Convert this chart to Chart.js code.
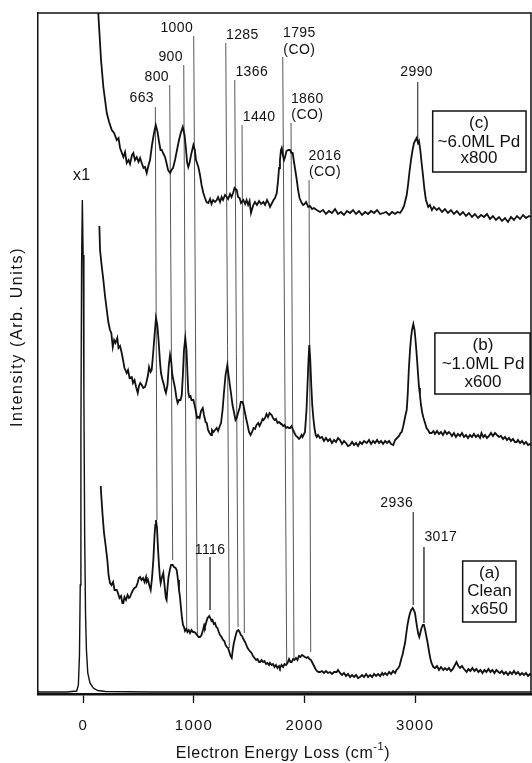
<!DOCTYPE html>
<html>
<head>
<meta charset="utf-8">
<script src="https://cdn.jsdelivr.net/npm/chart.js@4"></script>
<style>
  html, body { margin: 0; padding: 0; background: #fff; }
  #wrap { width: 532px; height: 763px; position: relative; }
</style>
</head>
<body>
<div id="wrap"><canvas id="eels"></canvas></div>
<script>
// wavenumber (cm-1), intensity (arb., offset stacked)
const elastic = [[-410,3],[-150,3],[-60,4],[-45,10],[-35,40],[-28,110],[-22,260],[-16,430],[-9,495],[-2,440],[5,300],[12,160],[20,80],[28,45],[40,22],[60,12],[90,7],[130,4.5],[200,3.5],[600,3],[4048,3]];

const traceC = [[128,720],[136,680],[160,635],[181,608],[212,582],[233,573],[257,565],[278,562],[302,555],[318,557],[332,547],[362,538],[377,543],[392,532],[409,535],[422,531],[440,540],[452,542],[467,535],[483,538],[499,533],[513,537],[528,532],[544,527],[558,528],[573,522],[590,530],[603,535],[621,550],[639,562],[655,570],[671,563],[685,553],[698,545],[709,545],[721,542],[739,538],[752,532],[766,525],[784,522],[797,525],[811,527],[829,535],[847,545],[865,555],[881,562],[899,568],[915,560],[929,545],[938,533],[949,528],[960,532],[974,540],[995,550],[1008,545],[1019,535],[1040,528],[1055,520],[1069,510],[1085,502],[1100,497],[1114,493],[1130,492],[1146,496],[1159,491],[1173,495],[1191,493],[1206,495],[1218,498],[1236,493],[1250,498],[1263,495],[1281,500],[1297,498],[1309,496],[1327,501],[1340,498],[1354,502],[1367,507],[1387,505],[1399,498],[1413,497],[1426,492],[1447,495],[1463,491],[1476,495],[1490,490],[1503,494],[1516,482],[1537,490],[1552,493],[1570,490],[1589,494],[1607,491],[1628,493],[1643,490],[1661,495],[1675,492],[1688,488],[1706,492],[1720,495],[1733,497],[1749,502],[1761,515],[1770,527],[1778,535],[1787,545],[1794,547],[1804,540],[1815,535],[1824,538],[1837,544],[1854,545],[1869,545],[1882,542],[1893,542],[1905,533],[1919,523],[1930,515],[1942,505],[1955,497],[1975,492],[1987,490],[2000,491],[2014,493],[2034,488],[2050,489],[2068,486],[2086,487],[2110,485],[2140,483],[2167,485],[2194,481],[2221,484],[2248,482],[2276,486],[2303,481],[2330,483],[2357,480],[2384,484],[2412,482],[2439,485],[2466,481],[2493,484],[2520,480],[2548,483],[2575,481],[2602,484],[2629,482],[2656,485],[2684,481],[2713,482],[2738,483],[2765,480],[2792,483],[2819,481],[2841,483],[2864,482],[2882,485],[2900,489],[2913,495],[2924,500],[2936,510],[2949,523],[2963,535],[2977,545],[2990,552],[3004,555],[3014,557],[3026,552],[3035,554],[3047,545],[3058,533],[3071,520],[3085,505],[3098,495],[3119,488],[3134,490],[3152,485],[3170,488],[3195,485],[3216,487],[3243,483],[3270,486],[3297,482],[3324,485],[3351,481],[3378,484],[3406,480],[3433,483],[3460,479],[3487,482],[3514,478],[3541,481],[3569,477],[3596,480],[3623,478],[3650,481],[3677,476],[3704,479],[3731,475],[3759,478],[3786,474],[3813,477],[3840,473],[3867,478],[3894,475],[3921,479],[3949,476],[3976,480],[4003,477],[4030,479],[4050,478]];

const traceB = [[145,469],[151,445],[165,430],[181,415],[196,399],[212,385],[226,373],[241,365],[253,362],[266,348],[278,355],[291,352],[307,357],[318,347],[332,349],[347,342],[359,335],[372,327],[392,322],[404,325],[418,317],[438,318],[449,312],[463,315],[477,308],[492,302],[503,309],[515,312],[528,310],[542,307],[558,308],[571,313],[585,320],[594,328],[608,323],[618,325],[630,340],[644,360],[657,377],[669,370],[680,355],[692,335],[702,322],[716,315],[729,310],[738,305],[747,302],[761,310],[773,330],[784,340],[795,333],[805,320],[814,315],[829,307],[842,297],[853,292],[865,295],[879,295],[890,300],[900,320],[910,345],[922,357],[933,345],[942,320],[949,303],[958,298],[969,299],[978,295],[995,295],[1006,290],[1019,283],[1028,277],[1040,278],[1051,277],[1064,284],[1080,287],[1091,280],[1105,273],[1116,272],[1128,265],[1141,262],[1155,260],[1163,265],[1177,263],[1191,265],[1206,267],[1218,264],[1231,268],[1245,272],[1259,285],[1272,303],[1286,320],[1302,330],[1313,320],[1325,310],[1335,302],[1349,290],[1362,283],[1376,275],[1387,277],[1399,282],[1413,287],[1424,293],[1438,293],[1448,290],[1460,283],[1471,277],[1485,270],[1498,263],[1512,260],[1526,263],[1539,267],[1553,266],[1566,270],[1582,272],[1593,269],[1607,272],[1620,276],[1628,275],[1643,277],[1656,281],[1670,278],[1684,282],[1703,280],[1715,277],[1729,275],[1742,276],[1756,272],[1770,273],[1778,272],[1792,271],[1806,269],[1819,270],[1833,267],[1846,268],[1860,267],[1869,267],[1882,269],[1896,265],[1909,262],[1923,259],[1936,258],[1950,256],[1959,257],[1973,260],[1982,258],[1991,260],[2004,263],[2018,285],[2027,310],[2036,335],[2043,350],[2052,335],[2061,310],[2070,290],[2079,278],[2090,267],[2101,260],[2110,258],[2122,260],[2140,257],[2158,258],[2176,254],[2194,257],[2212,254],[2230,256],[2248,252],[2267,255],[2285,253],[2303,257],[2321,255],[2339,251],[2357,254],[2375,252],[2393,249],[2412,250],[2430,253],[2448,250],[2466,252],[2484,249],[2502,253],[2520,251],[2538,254],[2563,252],[2583,255],[2602,251],[2620,254],[2638,252],[2656,255],[2674,252],[2692,254],[2710,251],[2729,254],[2747,252],[2765,254],[2783,251],[2803,250],[2819,255],[2837,257],[2855,259],[2868,262],[2879,263],[2891,268],[2904,275],[2913,280],[2924,285],[2933,300],[2943,325],[2954,345],[2963,357],[2972,365],[2984,371],[2995,365],[3006,352],[3018,335],[3027,320],[3036,307],[3044,300],[3053,290],[3065,282],[3076,277],[3090,272],[3103,267],[3117,265],[3132,262],[3150,262],[3166,264],[3180,261],[3198,264],[3216,261],[3234,263],[3252,260],[3270,264],[3288,261],[3306,263],[3315,262],[3333,259],[3351,262],[3369,258],[3387,261],[3406,259],[3424,262],[3442,258],[3460,260],[3478,257],[3496,260],[3514,258],[3532,261],[3550,258],[3569,260],[3587,257],[3600,262],[3617,258],[3632,260],[3650,257],[3668,259],[3686,262],[3704,259],[3722,262],[3740,260],[3759,258],[3777,259],[3795,256],[3813,258],[3831,255],[3849,257],[3867,254],[3885,256],[3903,253],[3919,253],[3930,255],[3949,252],[3967,254],[3985,251],[4003,253],[4021,250],[4039,251],[4052,249]];

const traceA = [[157,209],[165,195],[174,180],[187,162],[201,150],[217,135],[228,120],[241,112],[255,110],[269,113],[282,105],[302,105],[313,102],[327,97],[341,99],[353,92],[362,92],[372,98],[386,95],[400,100],[413,97],[422,98],[436,102],[449,105],[463,107],[477,108],[490,112],[502,117],[513,118],[526,115],[540,117],[553,113],[567,118],[573,113],[585,115],[598,109],[609,105],[621,117],[633,135],[644,160],[651,170],[657,175],[666,167],[675,147],[684,130],[693,117],[699,112],[709,117],[723,122],[734,110],[746,97],[753,95],[761,107],[770,118],[782,125],[793,130],[808,130],[820,128],[834,127],[844,125],[856,115],[865,105],[874,98],[883,87],[892,77],[901,70],[910,68],[919,64],[931,66],[941,63],[953,65],[965,62],[978,65],[992,63],[1001,63],[1014,62],[1028,60],[1042,58],[1055,58],[1069,60],[1082,65],[1093,70],[1100,68],[1112,73],[1123,77],[1132,78],[1139,79],[1148,77],[1159,74],[1168,75],[1180,71],[1191,72],[1202,68],[1213,67],[1225,63],[1236,60],[1250,58],[1263,55],[1275,54],[1286,50],[1297,48],[1309,47],[1320,43],[1331,39],[1342,37],[1351,45],[1361,52],[1372,57],[1381,61],[1390,64],[1402,65],[1413,63],[1424,60],[1435,59],[1447,56],[1462,53],[1474,50],[1485,47],[1498,45],[1512,43],[1522,42],[1534,39],[1548,37],[1562,35],[1575,36],[1589,33],[1598,33],[1611,35],[1625,33],[1638,34],[1652,31],[1665,32],[1679,30],[1688,32],[1702,30],[1715,31],[1729,28],[1742,30],[1756,27],[1770,29],[1778,27],[1792,30],[1806,28],[1819,31],[1833,30],[1846,32],[1860,36],[1873,33],[1884,33],[1896,36],[1909,35],[1923,37],[1936,35],[1950,39],[1963,38],[1977,40],[1991,39],[2004,38],[2018,37],[2031,38],[2045,36],[2059,35],[2072,32],[2086,29],[2099,26],[2113,24],[2127,23],[2140,23],[2158,24],[2176,22],[2194,24],[2212,22],[2230,23],[2248,21],[2267,23],[2291,23],[2303,25],[2321,22],[2339,20],[2357,22],[2375,19],[2393,21],[2412,18],[2430,20],[2448,18],[2466,20],[2484,17],[2502,18],[2520,20],[2538,18],[2557,21],[2575,18],[2593,20],[2611,18],[2629,21],[2647,19],[2665,21],[2684,19],[2702,22],[2713,20],[2729,22],[2747,20],[2765,23],[2783,21],[2801,24],[2819,22],[2832,25],[2848,27],[2859,29],[2868,33],[2877,37],[2886,40],[2895,45],[2909,52],[2921,62],[2931,70],[2943,77],[2954,82],[2965,85],[2978,87],[2988,85],[2999,82],[3008,75],[3019,67],[3029,61],[3038,58],[3047,62],[3058,67],[3070,70],[3080,70],[3091,65],[3101,59],[3112,53],[3121,47],[3130,41],[3139,36],[3148,32],[3165,28],[3180,27],[3198,29],[3216,25],[3234,28],[3255,25],[3270,27],[3288,25],[3306,27],[3324,24],[3342,26],[3360,30],[3374,33],[3391,29],[3406,27],[3424,29],[3442,26],[3466,23],[3482,26],[3500,24],[3518,27],[3536,24],[3554,26],[3572,23],[3591,25],[3609,22],[3627,25],[3645,23],[3663,26],[3681,23],[3699,25],[3717,22],[3735,25],[3753,23],[3767,22],[3785,24],[3803,21],[3821,23],[3840,20],[3858,23],[3876,21],[3894,24],[3912,21],[3930,23],[3949,20],[3967,22],[3985,20],[4003,22],[4021,19],[4039,21],[4052,20]];

// peak marker lines: [x top, y top, x bottom, y bottom]
const markers = [[651,588,666,175],[781,610,808,135],[908,630,935,65],[998,659,1031,60],[1288,652,1320,47],[1369,615,1399,68],[1435,570,1456,62],[1803,638,1839,32],[1878,572,1905,36],[2041,515,2056,43],[1146,138,1146,85],[2984,183,2984,90],[3080,148,3080,72],[3023,613,3023,555]];

// peak labels: [text, x, y]
const peakLabels = [['663',528,597],['800',664,618],['900',790,638],['1000',845,667],['1285',1438,660],['1366',1523,623],['1440',1589,578],['1795',1953,662],['(CO)',1953,645],['1860',2025,596],['(CO)',2025,580],['2016',2185,539],['(CO)',2185,523],['2990',3014,623],['1116',1146,145],['2936',2834,192],['3017',3232,158]];

// sample boxes: [left, top, right, bottom, centre x, line ys, lines]
const boxes = [
  [3159, 584, 4003, 523, 3577, [572, 553, 537], ['(c)', '~6.0ML Pd', 'x800']],
  [3179, 362, 4040, 301, 3614, [350, 331, 313], ['(b)', '~1.0ML Pd', 'x600']],
  [3430, 134, 3912, 73, 3672, [122, 104, 86], ['(a)', 'Clean', 'x650']]
];

const xTicks = [0, 1000, 2000, 3000];
const FONT = '"Liberation Sans", Arial, Helvetica, sans-serif';
const INK = '#111';

const toXY = arr => arr.map(p => ({ x: p[0], y: p[1] }));

const datasets = [
  { data: toXY(traceC), borderColor: INK, borderWidth: 1.8 },
  { data: toXY(traceB), borderColor: INK, borderWidth: 1.8 },
  { data: toXY(traceA), borderColor: INK, borderWidth: 1.8 },
  { data: toXY(elastic), borderColor: INK, borderWidth: 1.4 }
];
markers.forEach(m => {
  datasets.push({
    data: [{ x: m[0], y: m[1] }, { x: m[2], y: m[3] }],
    borderColor: '#555', borderWidth: 1
  });
});

const deco = {
  id: 'deco',
  beforeDraw(chart) {
    // scanned-type spacing for the tick labels
    chart.ctx.letterSpacing = '1.2px';
  },
  afterDatasetsDraw(chart) {
    const { ctx, chartArea: a, scales: { x, y } } = chart;
    ctx.save();
    ctx.strokeStyle = INK;
    ctx.lineWidth = 1.5;
    ctx.beginPath();
    ctx.moveTo(a.left, a.top);
    ctx.lineTo(a.right, a.top);
    ctx.lineTo(a.right, a.bottom);
    ctx.stroke();

    ctx.fillStyle = INK;
    ctx.textAlign = 'center';
    ctx.textBaseline = 'middle';
    ctx.letterSpacing = '0.4px';
    ctx.font = '14px ' + FONT;
    peakLabels.forEach(l => ctx.fillText(l[0], x.getPixelForValue(l[1]), y.getPixelForValue(l[2])));

    ctx.font = '16px ' + FONT;
    ctx.fillText('x1', x.getPixelForValue(-14), y.getPixelForValue(519));

    ctx.letterSpacing = '0px';
    ctx.lineWidth = 1.5;
    ctx.font = '17px ' + FONT;
    boxes.forEach(b => {
      const l = x.getPixelForValue(b[0]), t = y.getPixelForValue(b[1]);
      const r = x.getPixelForValue(b[2]), btm = y.getPixelForValue(b[3]);
      ctx.fillStyle = '#fff';
      ctx.fillRect(l, t, r - l, btm - t);
      ctx.strokeRect(l, t, r - l, btm - t);
      ctx.fillStyle = INK;
      b[6].forEach((s, i) => ctx.fillText(s, x.getPixelForValue(b[4]), y.getPixelForValue(b[5][i])));
    });

    // axis titles
    ctx.letterSpacing = '0.6px';
    ctx.font = '16px ' + FONT;
    const main = 'Electron Energy Loss (cm';
    const wMain = ctx.measureText(main).width;
    ctx.font = '11px ' + FONT;
    const wSup = ctx.measureText('-1').width;
    ctx.font = '16px ' + FONT;
    const wEnd = ctx.measureText(')').width;
    let cx = 283 - (wMain + wSup + wEnd) / 2;
    const ty = 754;
    ctx.textAlign = 'left';
    ctx.fillText(main, cx, ty);
    cx += wMain;
    ctx.font = '11px ' + FONT;
    ctx.fillText('-1', cx, ty - 7);
    cx += wSup;
    ctx.font = '16px ' + FONT;
    ctx.fillText(')', cx, ty);

    ctx.translate(18, 337);
    ctx.rotate(-Math.PI / 2);
    ctx.textAlign = 'center';
    ctx.letterSpacing = '1.6px';
    ctx.font = '16px ' + FONT;
    ctx.fillText('Intensity (Arb. Units)', 0, 0);
    ctx.restore();
  }
};

new Chart(document.getElementById('eels'), {
  type: 'line',
  data: { datasets: datasets },
  options: {
    responsive: true,
    maintainAspectRatio: false,
    animation: false,
    layout: { padding: { top: 13, right: 1, left: 0, bottom: 0 } },
    elements: { point: { radius: 0 }, line: { tension: 0 } },
    plugins: { legend: { display: false }, tooltip: { enabled: false } },
    scales: {
      x: {
        type: 'linear',
        min: -410,
        max: 4048,
        afterFit: s => { s.height = 69; },
        afterBuildTicks: s => { s.ticks = xTicks.map(v => ({ value: v })); },
        grid: { display: true, drawOnChartArea: false, tickLength: 9, tickColor: INK, tickWidth: 1.3 },
        border: { display: true, color: INK, width: 2.5 },
        ticks: { color: INK, font: { family: FONT, size: 15 }, padding: 14, maxRotation: 0, callback: v => String(v) }
      },
      y: {
        type: 'linear',
        min: 1,
        max: 682,
        afterFit: s => { s.width = 38; },
        grid: { display: false },
        border: { display: true, color: INK, width: 1.5 },
        ticks: { display: false }
      }
    }
  },
  plugins: [deco]
});
</script>
</body>
</html>
